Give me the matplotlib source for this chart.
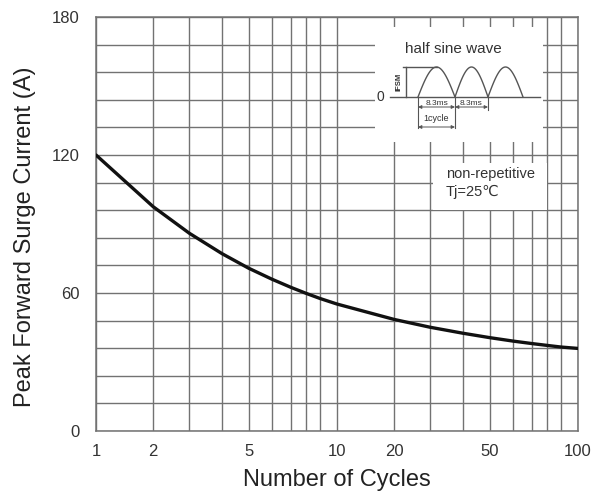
import matplotlib
matplotlib.use("Agg")
import matplotlib.pyplot as plt
import numpy as np
from matplotlib.ticker import FixedLocator, FuncFormatter

plt.rcParams['font.family'] = ['Liberation Sans', 'DejaVu Sans']

# data
cycles = [1, 2, 3, 4, 5, 6, 7, 8, 9, 10, 20, 30, 40, 50, 60, 70, 80, 90, 100]
current = [120, 97.5, 86, 77.1, 70.8, 66, 62.4, 59.8, 57.6, 55.2,
           48.5, 45.1, 42.5, 40.6, 39.1, 38.0, 37.2, 36.5, 35.9]

x_labels = [1, 2, 5, 10, 20, 50, 100]
x_grid = [1, 2, 3, 4, 5, 6, 7, 8, 9, 10, 20, 30, 40, 50, 60, 70, 80, 90, 100]
y_labels = [0, 60, 120, 180]
y_grid = list(range(0, 181, 12))

# the printed log grid is not a true log grid: position of 1..10 inside a decade
decade_pos = np.array([0, 0.2375, 0.387, 0.523, 0.633, 0.73, 0.81, 0.873, 0.93, 1.0])
mant = np.arange(1, 11)


def fwd(x):
    x = np.clip(np.asarray(x, dtype=float), 1e-3, None)
    d = np.floor(np.log10(x) + 1e-12)
    m = x / 10 ** d
    return d + np.interp(m, mant, decade_pos)


def inv(p):
    p = np.asarray(p, dtype=float)
    d = np.floor(p)
    return np.interp(p - d, decade_pos, mant) * 10 ** d


grid_col = '#727272'
txt_col = '#333333'

fig = plt.figure(figsize=(6.08, 4.93), dpi=100)
ax = fig.add_axes([96 / 608, 62 / 493, 482 / 608, 414 / 493])

ax.plot(cycles, current, color='#111111', lw=2.4, solid_capstyle='round',
        solid_joinstyle='round', zorder=3)

ax.set_xscale('function', functions=(fwd, inv))
ax.set_xlim(1, 100)
ax.set_ylim(0, 180)

ax.xaxis.set_major_locator(FixedLocator(x_labels))
ax.xaxis.set_major_formatter(FuncFormatter(lambda v, p: f"{v:g}"))
ax.xaxis.set_minor_locator(FixedLocator(x_grid))
ax.yaxis.set_major_locator(FixedLocator(y_labels))
ax.yaxis.set_minor_locator(FixedLocator(y_grid))

ax.grid(True, which='both', color=grid_col, lw=1.0)
ax.set_axisbelow(True)
ax.tick_params(which='both', length=0)
ax.tick_params(axis='x', pad=9, labelsize=12, labelcolor=txt_col)
ax.tick_params(axis='y', pad=12, labelsize=12, labelcolor=txt_col)
for s in ax.spines.values():
    s.set_color(grid_col)
    s.set_linewidth(1.1)

ax.set_xlabel("Number of Cycles", fontsize=17, color='#222222')
ax.set_ylabel("Peak Forward Surge Current (A)", fontsize=17, color='#222222')
ax.xaxis.set_label_coords(0.5, -0.092)
ax.yaxis.set_label_coords(-0.125, 0.47)

# inset with the half sine wave sketch (drawn in pixel-like coordinates)
ins = ax.inset_axes([279 / 482, 289 / 414, 168 / 482, 115 / 414])
ins.set_xlim(375, 543)
ins.set_ylim(142, 27)
ins.set_facecolor('white')
ins.set_xticks([])
ins.set_yticks([])
for s in ins.spines.values():
    s.set_visible(False)

lc = '#555555'
ins.text(453, 49, "half sine wave", ha='center', va='center', fontsize=11, color=txt_col)
ins.plot([390, 540], [97, 97], color=lc, lw=1)
ins.text(380, 97, "0", ha='center', va='center', fontsize=10, color=txt_col)
edges = [418, 455, 488, 523]
for a, b in zip(edges[:-1], edges[1:]):
    t = np.linspace(0, 1, 60)
    ins.plot(a + (b - a) * t, 97 - 30 * np.sin(np.pi * t), color=lc, lw=1)
ins.plot([406, 406], [67, 97], color=lc, lw=1)
ins.plot([403, 437], [67, 67], color=lc, lw=1)
ins.text(399, 82, "IFSM", rotation=90, ha='center', va='center', fontsize=5.5,
         fontweight='bold', color=txt_col)
for x0, x1, y1 in [(418, 418, 128), (455, 455, 128), (488, 488, 110)]:
    ins.plot([x0, x1], [97, y1], color=lc, lw=0.8)
arrow = dict(arrowstyle='<|-|>', color=lc, lw=0.7, mutation_scale=5, shrinkA=0, shrinkB=0)
for a, b in [(418, 455), (455, 488)]:
    ins.annotate("", xy=(a, 107), xytext=(b, 107), arrowprops=arrow)
    ins.text((a + b) / 2, 103, "8.3ms", ha='center', va='center', fontsize=6, color=txt_col)
ins.annotate("", xy=(418, 127), xytext=(455, 127), arrowprops=arrow)
ins.text(436.5, 118, "1cycle", ha='center', va='center', fontsize=6.5, color=txt_col)

# note box
note = ax.inset_axes([337 / 482, 221 / 414, 114 / 482, 47 / 414])
note.set_xlim(433, 547)
note.set_ylim(210, 163)
note.set_facecolor('white')
note.set_xticks([])
note.set_yticks([])
for s in note.spines.values():
    s.set_visible(False)
note.text(446, 174, "non-repetitive", ha='left', va='center', fontsize=10.5, color=txt_col)
note.text(446, 192, "Tj=25\u2103", ha='left', va='center', fontsize=10.5, color=txt_col,
          family=['Liberation Sans', 'DejaVu Sans', 'Noto Sans CJK SC'])

fig.savefig("out.png", dpi=100)
